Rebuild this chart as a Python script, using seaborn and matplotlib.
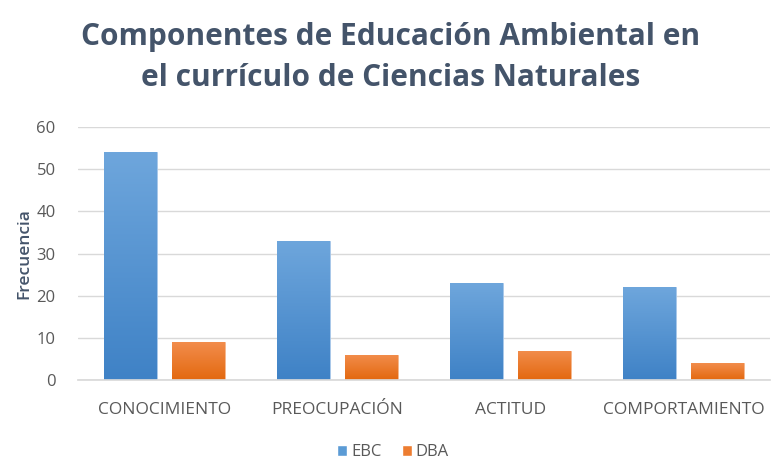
import numpy as np
import pandas as pd
import seaborn as sns
import matplotlib.pyplot as plt
from matplotlib.colors import LinearSegmentedColormap

# Data
categorias = ['CONOCIMIENTO', 'PREOCUPACIÓN', 'ACTITUD', 'COMPORTAMIENTO']
ebc = [54, 33, 23, 22]
dba = [9, 6, 7, 4]

df = pd.DataFrame({
    'Categoria': categorias * 2,
    'Frecuencia': ebc + dba,
    'Serie': ['EBC'] * len(categorias) + ['DBA'] * len(categorias),
})

sns.set_theme(style='white')
plt.rcParams['font.family'] = ['Open Sans', 'DejaVu Sans']

fig = plt.figure(figsize=(7.71, 4.59), dpi=100)
ax = fig.add_axes([0.101, 0.172, 0.898, 0.551])

sns.barplot(data=df, x='Categoria', y='Frecuencia', hue='Serie',
            palette={'EBC': '#5B9BD5', 'DBA': '#ED7D31'}, saturation=1,
            width=0.78, gap=0.215, ax=ax, legend=True)

# soft vertical gradient on the bars, like the office-style original
grads = {
    'EBC': LinearSegmentedColormap.from_list('b', ['#3F82C6', '#6EA6DC']),
    'DBA': LinearSegmentedColormap.from_list('o', ['#E3680F', '#F28D4C']),
}
grad = np.linspace(0, 1, 100).reshape(-1, 1)
for cont, serie in zip(ax.containers, ['EBC', 'DBA']):
    for bar in cont:
        x0, y0 = bar.get_x(), bar.get_y()
        w, h = bar.get_width(), bar.get_height()
        im = ax.imshow(grad, cmap=grads[serie], origin='lower', aspect='auto',
                       extent=[x0, x0 + w, y0, y0 + h], zorder=bar.get_zorder() + 0.1)
        im.set_clip_path(bar)
        bar.set_edgecolor('#A9C8EA' if serie == 'EBC' else '#F5B88E')
        bar.set_linewidth(0.6)

ax.set_xlim(-0.5, 3.5)
ax.set_ylim(0, 60)
ax.set_yticks(range(0, 61, 10))
ax.yaxis.grid(True, color='#D9D9D9', linewidth=1)
ax.set_axisbelow(True)
for s in ['top', 'right', 'left']:
    ax.spines[s].set_visible(False)
ax.spines['bottom'].set_color('#D9D9D9')
ax.tick_params(axis='both', length=0, labelsize=12, labelcolor='#595959')
ax.tick_params(axis='x', pad=16, labelsize=12.5)
ax.tick_params(axis='y', pad=16)
ax.set_xlabel('')
ax.set_ylabel('Frecuencia', fontsize=12.5, color='#44546A', fontweight='semibold', labelpad=3)

fig.suptitle('Componentes de Educación Ambiental en\nel currículo de Ciencias Naturales',
             fontsize=21.5, fontweight='bold', color='#44546A', x=0.506, y=0.952,
             linespacing=1.48)

ax.legend(loc='center', bbox_to_anchor=(0.455, -0.285), ncol=2, frameon=False,
          fontsize=12, labelcolor='#595959', handlelength=0.6, handleheight=0.6,
          handletextpad=0.25, columnspacing=1.2)

fig.savefig('out.png', dpi=100)
